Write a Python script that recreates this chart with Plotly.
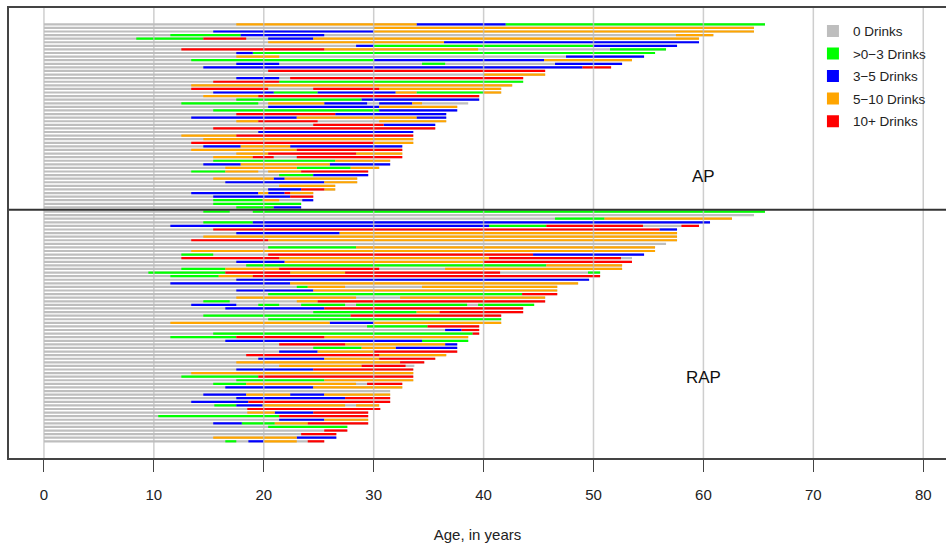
import plotly.graph_objects as go

# Drinking categories (legend order) and colours
CATEGORIES = ["0 Drinks", ">0\u22123 Drinks", "3\u22125 Drinks", "5\u221210 Drinks", "10+ Drinks"]
COLORS = ["#BEBEBE", "#00FF00", "#0000FF", "#FFA500", "#FF0000"]

# Each subject: list of (category index, start age, end age); grey baseline runs from 0 to last age
AP_SEGMENTS = [
    [(3, 17.5, 33.9), (2, 33.9, 42), (1, 42, 65.6)],
    [(3, 30, 64.6)],
    [(2, 15.4, 30), (3, 30, 64.6)],
    [(1, 11.5, 17.9), (2, 17.9, 25.5), (3, 57.5, 60.9)],
    [(1, 8.4, 14.5), (4, 14.5, 18.4), (2, 20.4, 24.5), (3, 24.5, 59.6)],
    [(3, 20.4, 36.4), (2, 36.4, 59.6)],
    [(2, 28.4, 30), (1, 30, 50), (2, 50, 57.6)],
    [(4, 12.5, 25.5), (3, 25.5, 39.5), (1, 51.5, 56.6)],
    [(2, 17.5, 19), (1, 19, 55.6)],
    [(3, 17.5, 21.4), (2, 47.5, 54.6)],
    [(1, 13.4, 30), (2, 30, 45.5), (3, 45.5, 53.5)],
    [(2, 17.5, 21.4), (1, 34.4, 36.5), (2, 46.5, 52.6)],
    [(2, 14.5, 49), (4, 49, 51.6)],
    [(4, 20.4, 45.6)],
    [(3, 40, 45.6)],
    [(2, 17.5, 21.4), (4, 22.4, 43.6)],
    [(4, 15.4, 21.4), (1, 21.4, 43.6)],
    [(3, 13.4, 42.6)],
    [(4, 13.4, 20.4), (4, 24.5, 30.5), (3, 30.5, 41.6)],
    [(2, 15.4, 20.9), (1, 20.9, 24.9), (2, 24.9, 32), (3, 32, 33.9), (1, 33.9, 40), (3, 40, 41.6)],
    [(3, 14.5, 19.5), (4, 19.5, 39.6)],
    [(1, 17.5, 28.9), (2, 28.9, 39.6)],
    [(1, 12.5, 19.5), (3, 20.4, 25.5), (2, 25.5, 29.4), (2, 30.5, 33.5), (3, 33.5, 34.4), (0, 34.4, 38.6)],
    [(2, 20.4, 30.5), (3, 30.5, 37.6)],
    [(1, 15.4, 30.5), (2, 30.5, 37.6)],
    [(4, 17.5, 26.5), (2, 26.5, 36.6)],
    [(2, 13.4, 23), (3, 23, 33.9), (2, 33.9, 36.6)],
    [(3, 17.5, 19.5), (4, 19.5, 24.9), (3, 30.5, 36.6)],
    [(4, 24.5, 30.9), (2, 30.9, 35.6)],
    [(4, 15.4, 35.6)],
    [(2, 19.5, 33.6)],
    [(3, 12.5, 17.5), (4, 17.5, 33.6)],
    [(3, 14.5, 33.6)],
    [(4, 13.4, 30), (3, 30, 33.6)],
    [(2, 14.5, 17.9), (3, 17.9, 22.4), (2, 22.4, 32.6)],
    [(3, 13.4, 23), (4, 23, 32.6)],
    [(3, 17.5, 20.4), (4, 20.4, 28.4), (3, 28.4, 32.6)],
    [(3, 15.4, 19), (4, 19, 20.9), (4, 23, 32.6)],
    [(1, 15.4, 26.5), (3, 26.5, 31.5)],
    [(2, 14.5, 17.9), (3, 17.9, 26), (2, 26, 31.5)],
    [(3, 16.5, 23), (1, 23, 27.9), (3, 27.9, 30.5)],
    [(1, 13.4, 16.5), (3, 16.5, 19.5), (3, 20.4, 23.4), (4, 23.4, 29.5)],
    [(1, 21.4, 24.5), (2, 24.5, 29.5)],
    [(3, 15.4, 20.9), (2, 20.9, 21.9), (3, 21.9, 28.5)],
    [(2, 16.5, 25.5), (3, 25.5, 28.5)],
    [(3, 21.4, 26.5)],
    [(2, 20.4, 23.4), (4, 23.4, 25.5), (3, 25.5, 26.5)],
    [(2, 13.4, 19.5), (3, 19.5, 20.4), (2, 20.4, 21.9), (4, 21.9, 22.4), (3, 22.4, 24.5)],
    [(2, 15.4, 22.4), (4, 22.4, 24.5)],
    [(1, 15.4, 19.9), (3, 19.9, 21.4), (2, 23.5, 24.5)],
    [(1, 15.4, 23.4)],
    [(1, 17.5, 20.9), (2, 20.9, 23.4)],
]

RAP_SEGMENTS = [
    [(1, 14.5, 16.9), (1, 19, 65.6)],
    [(0, 0, 64.6)],
    [(1, 46.5, 51), (3, 51, 62.6)],
    [(1, 14.5, 19), (2, 19, 60.6)],
    [(2, 11.5, 40.5), (1, 40.5, 45.7), (4, 45.7, 54.5), (4, 58, 59.6)],
    [(4, 15.4, 56), (2, 56, 57.6)],
    [(2, 17.5, 26.9), (3, 26.9, 57.6)],
    [(3, 14.5, 57.6)],
    [(4, 13.4, 20.4), (3, 20.4, 57.6)],
    [(0, 0, 56.6)],
    [(1, 20.4, 28.4), (3, 28.4, 55.6)],
    [(3, 13.4, 55.6)],
    [(1, 12.5, 15.4), (4, 20.4, 44.5), (2, 44.5, 54.6)],
    [(4, 12.5, 21.4), (3, 21.4, 40.5), (4, 40.5, 52.5), (0, 52.5, 53.5)],
    [(2, 17.5, 21.9), (3, 21.9, 40), (4, 40, 53.5)],
    [(1, 18.4, 45.7), (3, 45.7, 52.6)],
    [(1, 12.5, 16.5), (3, 16.5, 21.4), (4, 21.4, 30.5), (3, 36.5, 52.6)],
    [(1, 9.5, 16.5), (4, 16.5, 22.4), (3, 22.4, 27.4), (4, 27.4, 41.5), (1, 49.5, 50.6)],
    [(1, 11.5, 15.9), (3, 15.9, 19), (4, 19, 50.6)],
    [(2, 17.5, 49.6)],
    [(2, 11.5, 22.4), (3, 22.4, 48.6)],
    [(1, 23, 24), (3, 24, 27.4), (3, 34.4, 46.7)],
    [(2, 17.5, 24.5), (3, 24.5, 46.7)],
    [(1, 20.4, 43.5), (4, 43.5, 46.7)],
    [(3, 17.5, 28.4), (3, 32.4, 45.6)],
    [(1, 14.5, 16.9), (3, 23, 24.9), (4, 24.9, 45.6)],
    [(2, 13.4, 17.5), (1, 19.5, 21.4), (1, 23.4, 27.4), (1, 28.4, 38.5), (1, 39.5, 44.6)],
    [(2, 16.5, 25.5), (4, 25.5, 43.6)],
    [(1, 24.5, 33.9), (3, 33.9, 36), (4, 36, 43.6)],
    [(1, 14.5, 27.9), (4, 27.9, 41.6)],
    [(1, 20.4, 41.6)],
    [(3, 11.5, 26), (2, 26, 30), (3, 30, 41.6)],
    [(1, 29.4, 34.9), (4, 34.9, 39.6)],
    [(2, 36.5, 38), (4, 38, 39.6)],
    [(1, 15.4, 39), (4, 39, 39.6)],
    [(1, 11.5, 17.5), (4, 17.5, 25.5), (3, 25.5, 38.6)],
    [(2, 16.5, 34.4), (1, 34.4, 38.6)],
    [(4, 21.4, 27.4), (3, 27.4, 36.5), (2, 36.5, 37.6)],
    [(1, 24.5, 28.9), (3, 28.9, 32), (2, 32, 37.6)],
    [(2, 21.4, 24.9), (3, 24.9, 30), (4, 30, 37.6)],
    [(4, 18.4, 30.5), (3, 30.5, 36.6)],
    [(2, 19.5, 25.5), (3, 25.5, 30.5), (4, 30.5, 35.6)],
    [(3, 17.5, 32.4), (4, 32.4, 34.6)],
    [(3, 21.4, 28.9), (4, 28.9, 32.9), (0, 32.9, 33.7)],
    [(2, 17.5, 24.5), (4, 24.5, 33.6)],
    [(3, 13.4, 33.6)],
    [(1, 12.5, 19.5), (4, 19.5, 33.6)],
    [(1, 17.5, 25.5), (3, 25.5, 33.6)],
    [(1, 15.4, 18.4), (3, 18.4, 28.4), (4, 29.4, 32.6)],
    [(2, 16.5, 24.5), (3, 24.5, 32.6)],
    [(0, 0, 31.5)],
    [(2, 14.5, 18.4), (3, 18.4, 22.4), (2, 22.4, 25.5), (3, 25.5, 31.5)],
    [(2, 17.5, 27.4), (4, 27.4, 31.5)],
    [(2, 13.4, 18.6), (4, 18.6, 31.5)],
    [(1, 15.5, 17.5), (2, 17.5, 19.9), (3, 19.9, 27.4), (3, 28.4, 30.5)],
    [(4, 18.5, 30.6)],
    [(3, 18.5, 21), (2, 21, 24.5), (4, 24.5, 29.5)],
    [(1, 10.4, 21.4), (4, 21.4, 29.5)],
    [(2, 21.4, 25.5), (3, 25.5, 29.5)],
    [(2, 15.4, 18), (1, 18, 21), (3, 21, 24), (4, 24, 29.5)],
    [(1, 20.4, 27.6)],
    [(4, 25.5, 27.6)],
    [(4, 23.4, 26.6)],
    [(3, 15.4, 23), (2, 23, 26.6)],
    [(1, 16.5, 17.5), (2, 18.6, 20), (3, 20, 23), (4, 24, 25.5)],
]

GROUP_LABELS = ["AP", "RAP"]
X_TICKS = [0, 10, 20, 30, 40, 50, 60, 70, 80]

# Row positions (top to bottom); small gap between the two groups
RAP_OFFSET = len(AP_SEGMENTS) + 0.15
rows = [(i, seg) for i, seg in enumerate(AP_SEGMENTS)] + \
       [(RAP_OFFSET + i, seg) for i, seg in enumerate(RAP_SEGMENTS)]
DIVIDER = len(AP_SEGMENTS) - 0.36

xs = {k: [] for k in range(len(CATEGORIES))}
ys = {k: [] for k in range(len(CATEGORIES))}
for ypos, segs in rows:
    end = max(s[2] for s in segs)
    xs[0] += [0, end, None]
    ys[0] += [ypos, ypos, None]
    for cat, a, b in segs:
        if cat == 0:
            continue
        xs[cat] += [a, b, None]
        ys[cat] += [ypos, ypos, None]

fig = go.Figure()
for k in range(len(CATEGORIES)):
    fig.add_trace(go.Scatter(x=xs[k], y=ys[k], mode="lines",
                             line=dict(color=COLORS[k], width=2.2),
                             showlegend=False, hoverinfo="skip"))
for k in range(len(CATEGORIES)):
    fig.add_trace(go.Scatter(x=[None], y=[None], mode="markers", name=CATEGORIES[k],
                             legendgroup=str(k),
                             marker=dict(symbol="square", size=12, color=COLORS[k])))

# Vertical reference lines drawn over the segments
for t in X_TICKS:
    fig.add_shape(type="line", x0=t, x1=t, y0=0, y1=1, xref="x", yref="paper",
                  line=dict(color="rgba(190,190,190,0.75)", width=1.5), layer="above")
# Divider between groups
fig.add_shape(type="line", x0=0, x1=1, y0=DIVIDER, y1=DIVIDER, xref="paper", yref="y",
              line=dict(color="#333333", width=2), layer="above")

fig.add_annotation(x=60, y=42.5, text=GROUP_LABELS[0], showarrow=False,
                   font=dict(size=17, color="#111111"))
fig.add_annotation(x=60, y=98.5, text=GROUP_LABELS[1], showarrow=False,
                   font=dict(size=17, color="#111111"))

fig.update_layout(
    width=946, height=545,
    margin=dict(l=9, r=0, t=8, b=87),
    paper_bgcolor="white", plot_bgcolor="white",
    font=dict(family="Liberation Sans, Arial, sans-serif", color="#222222"),
    legend=dict(x=0.858, y=0.983, xanchor="left", yanchor="top",
                font=dict(size=13.5, color="#222222"), tracegroupgap=2,
                bgcolor="rgba(0,0,0,0)", itemwidth=30),
    xaxis=dict(range=[-3.18, 82.07], tickvals=X_TICKS, showgrid=False, zeroline=False,
               showline=True, mirror=True, linecolor="#444444", linewidth=1.5,
               ticks="outside", ticklen=12, tickcolor="#444444", tickwidth=1,
               tickfont=dict(size=15, color="#222222"), ticklabelstandoff=10,
               title=dict(text="Age, in years", font=dict(size=15, color="#222222"), standoff=28)),
    yaxis=dict(range=[120.8, -4.54], showticklabels=False, showgrid=False, zeroline=False,
               showline=True, mirror=False, linecolor="#444444", linewidth=1.5, ticks=""),
)

fig.write_html("out.html", config={"displayModeBar": False},
               post_script="document.body.style.margin='0';document.body.style.overflow='hidden';")
